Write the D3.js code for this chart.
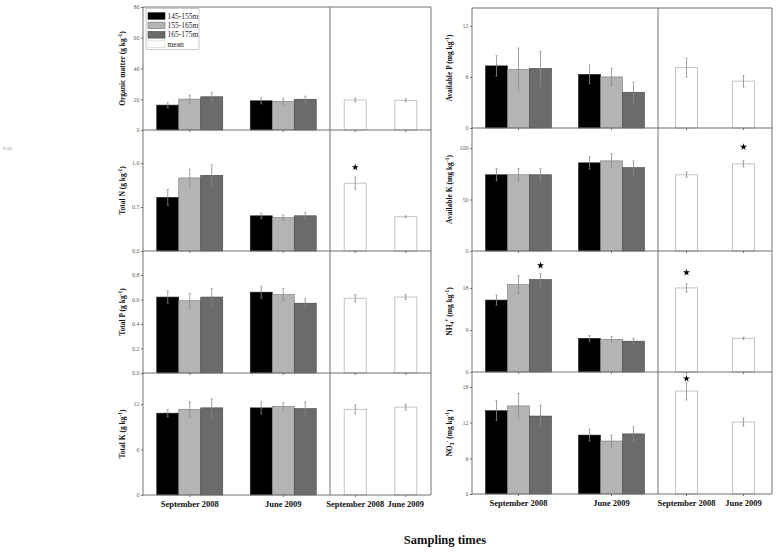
<!DOCTYPE html>
<html><head><meta charset="utf-8">
<script src="https://cdn.jsdelivr.net/npm/d3@7"></script>
<style>body{margin:0;background:#fff}</style></head>
<body><svg id="c" width="777" height="553"></svg>
<script>
// ---------- DATA ----------
const times = ["September 2008", "June 2009"];
const elevations = ["145-155m", "155-165m", "165-175m"];
const legendLabels = ["145-155m", "155-165m", "165-175m", "mean"];

// values [time][elevation]
const organicMatter = [[16.2, 20.1, 21.6], [19.0, 18.7, 20.0]];
const organicMatterErr = [[1.8, 2.6, 2.9], [2.0, 2.0, 2.0]];
const organicMatterMean = [19.5, 19.3];
const organicMatterMeanErr = [1.3, 1.0];

const totalN = [[0.61, 0.83, 0.86], [0.40, 0.38, 0.40]];
const totalNErr = [[0.09, 0.10, 0.12], [0.03, 0.03, 0.04]];
const totalNMean = [0.77, 0.39];
const totalNMeanErr = [0.07, 0.01];

const totalP = [[0.62, 0.59, 0.62], [0.66, 0.64, 0.57]];
const totalPErr = [[0.05, 0.06, 0.07], [0.05, 0.05, 0.04]];
const totalPMean = [0.61, 0.62];
const totalPMeanErr = [0.03, 0.02];

const totalK = [[10.8, 11.3, 11.5], [11.5, 11.7, 11.4]];
const totalKErr = [[0.5, 1.0, 1.2], [0.8, 0.5, 0.9]];
const totalKMean = [11.3, 11.6];
const totalKMeanErr = [0.6, 0.4];

const availableP = [[7.3, 6.9, 7.0], [6.3, 6.0, 4.2]];
const availablePErr = [[1.2, 2.5, 2.0], [1.1, 1.0, 1.2]];
const availablePMean = [7.1, 5.5];
const availablePMeanErr = [1.1, 0.7];

const availableK = [[74, 74, 74], [85.6, 87.5, 81]];
const availableKErr = [[6, 6, 6], [6, 7, 6.5]];
const availableKMean = [74, 84.6];
const availableKMeanErr = [2.5, 3];

const nh4 = [[15.4, 18.7, 19.8], [7.2, 7.0, 6.6]];
const nh4Err = [[1.1, 1.9, 1.3], [0.6, 0.6, 0.6]];
const nh4Mean = [18.0, 7.2];
const nh4MeanErr = [0.9, 0.25];

const no3 = [[14.0, 14.8, 13.1], [9.9, 8.9, 10.1]];
const no3Err = [[1.7, 2.1, 1.8], [1.0, 1.0, 1.2]];
const no3Mean = [17.3, 12.1];
const no3MeanErr = [1.5, 0.7];

// axis domains and tick values
const yMaxes = { om: 80, tn: 1.375, tp: 0.996, tk: 16.1, ap: 14.1, ak: 119.4, nh4: 25.9, no3: 20.5 };
const omTicks = [0, 20, 40, 60, 80];
const tnTicks = [0, 0.5, 1.0];
const tpTicks = [0, 0.2, 0.4, 0.6, 0.8];
const tkTicks = [0, 6, 12];
const apTicks = [0, 6, 12];
const akTicks = [0, 50, 100];
const nh4Ticks = [0, 9, 18];
const no3Ticks = [0, 6, 12, 18];

// significance stars: panel, kind ("mean" or elevation index), time index, value
const starPanels = ["tn", "ak", "nh4", "nh4", "no3"];
const starKinds = ["mean", "mean", 2, "mean", "mean"];
const starTimes = [0, 1, 0, 0, 0];
const starValues = [0.95, 101, 22.8, 21.3, 19.4];

// ---------- STYLE / LAYOUT ----------
const seriesColors = ["#000000", "#b4b4b4", "#6b6b6b"];
const seriesStroke = ["#222", "#777", "#444"];
const frameColor = "#707070";
const serif = "'Liberation Serif','Times New Roman',serif";

const cols = [
  { wide: [143, 330], mean: [330, 431], labelX: 125, rows: [[7, 130], [130, 251], [251, 373], [373, 495]] },
  { wide: [472, 658], mean: [658, 772], labelX: 452, rows: [[8, 128], [128, 251], [251, 372], [372, 494]] }
];

const sup = (t) => ({ t, s: "sup" }), sub = (t) => ({ t, s: "sub" }), n = (t) => ({ t, s: null });
const panels = [
  { key: "om", col: 0, row: 0, v: organicMatter, e: organicMatterErr, m: organicMatterMean, me: organicMatterMeanErr, ticks: omTicks, fmt: d3.format("d"),
    label: [n("Organic matter (g kg"), sup("-1"), n(")")] },
  { key: "tn", col: 0, row: 1, v: totalN, e: totalNErr, m: totalNMean, me: totalNMeanErr, ticks: tnTicks, fmt: d3.format(".1f"),
    label: [n("Total N (g kg"), sup("-1"), n(")")] },
  { key: "tp", col: 0, row: 2, v: totalP, e: totalPErr, m: totalPMean, me: totalPMeanErr, ticks: tpTicks, fmt: d3.format(".1f"),
    label: [n("Total P (g kg"), sup("-1"), n(")")] },
  { key: "tk", col: 0, row: 3, v: totalK, e: totalKErr, m: totalKMean, me: totalKMeanErr, ticks: tkTicks, fmt: d3.format("d"),
    label: [n("Total K (g kg"), sup("-1"), n(")")] },
  { key: "ap", col: 1, row: 0, v: availableP, e: availablePErr, m: availablePMean, me: availablePMeanErr, ticks: apTicks, fmt: d3.format("d"),
    label: [n("Available P (mg kg"), sup("-1"), n(")")] },
  { key: "ak", col: 1, row: 1, v: availableK, e: availableKErr, m: availableKMean, me: availableKMeanErr, ticks: akTicks, fmt: d3.format("d"),
    label: [n("Available K (mg kg"), sup("-1"), n(")")] },
  { key: "nh4", col: 1, row: 2, v: nh4, e: nh4Err, m: nh4Mean, me: nh4MeanErr, ticks: nh4Ticks, fmt: d3.format("d"),
    label: [n("NH"), sub("4"), sup("+"), n(" (mg kg"), sup("-1"), n(")")] },
  { key: "no3", col: 1, row: 3, v: no3, e: no3Err, m: no3Mean, me: no3MeanErr, ticks: no3Ticks, fmt: d3.format("d"),
    label: [n("NO"), sub("3"), sup("-"), n(" (mg kg"), sup("-1"), n(")")] }
];

const svg = d3.select("#c");
svg.append("rect").attr("width", 777).attr("height", 553).attr("fill", "#fff");

// stray tiny text at left
svg.append("text").attr("x", 3).attr("y", 150).attr("font-size", 4).attr("fill", "#888")
  .attr("font-family", serif).text("N (0)");

const BW = 22;
function groupScale(range, bw) {
  const step = (range[1] - range[0]) / 2;
  const pi = 1 - bw / step;
  return d3.scaleBand().domain(times).range(range).paddingInner(pi).paddingOuter(pi / 2);
}

function drawErr(g, cx, yTop, yBot) {
  g.append("line").attr("x1", cx).attr("x2", cx).attr("y1", yTop).attr("y2", yBot)
    .attr("stroke", "#8a8a8a").attr("stroke-width", 0.8);
  [yTop, yBot].forEach(yy => g.append("line").attr("x1", cx - 1.2).attr("x2", cx + 1.2)
    .attr("y1", yy).attr("y2", yy).attr("stroke", "#8a8a8a").attr("stroke-width", 0.6));
}

const yScales = {};
const meanScales = {};
panels.forEach(p => {
  const c = cols[p.col];
  const [top, bottom] = c.rows[p.row];
  const y = d3.scaleLinear().domain([0, yMaxes[p.key]]).range([bottom, top]);
  yScales[p.key] = y;
  const x0 = groupScale(c.wide, BW * 3);
  const x1 = d3.scaleBand().domain(elevations).range([0, x0.bandwidth()]);
  const xm = groupScale(c.mean, BW);
  meanScales[p.key] = { x0, x1, xm };
  const g = svg.append("g");

  times.forEach((t, ti) => {
    elevations.forEach((el, ei) => {
      const val = p.v[ti][ei], er = p.e[ti][ei];
      const cx = x0(t) + x1(el) + x1.bandwidth() / 2;
      g.append("rect").attr("x", x0(t) + x1(el)).attr("width", x1.bandwidth())
        .attr("y", y(val)).attr("height", y(0) - y(val))
        .attr("fill", seriesColors[ei]).attr("stroke", seriesStroke[ei]).attr("stroke-width", 0.6);
      drawErr(g, cx, y(val + er), y(val - er));
    });
    const mv = p.m[ti], me = p.me[ti];
    g.append("rect").attr("x", xm(t)).attr("width", xm.bandwidth())
      .attr("y", y(mv)).attr("height", y(0) - y(mv))
      .attr("fill", "#fff").attr("stroke", "#c4c4c4").attr("stroke-width", 1);
    drawErr(g, xm(t) + xm.bandwidth() / 2, y(mv + me), y(mv - me));
  });

  const ay = g.append("g").attr("transform", `translate(${c.wide[0]},0)`)
    .call(d3.axisLeft(y).tickValues(p.ticks).tickFormat(p.fmt).tickSize(2).tickSizeOuter(0).tickPadding(1.5));
  ay.select(".domain").remove();
  ay.selectAll("line").attr("stroke", frameColor);
  ay.selectAll("text").attr("font-size", 6).attr("fill", "#666").attr("font-family", serif);

  const isBottom = p.row === 3;
  [x0, xm].forEach(sc => {
    const ax = g.append("g").attr("transform", `translate(0,${bottom})`)
      .call(d3.axisBottom(sc).tickSize(2).tickPadding(4).tickFormat(isBottom ? (d => d) : () => ""));
    ax.select(".domain").remove();
    ax.selectAll("line").attr("stroke", frameColor);
    ax.selectAll("text").attr("font-size", 8.5).attr("font-weight", "bold")
      .attr("font-family", serif).attr("fill", "#111");
  });

  const lbl = g.append("text").attr("transform", `translate(${c.labelX},${(top + bottom) / 2}) rotate(-90)`)
    .attr("text-anchor", "middle").attr("font-family", serif).attr("font-weight", "bold")
    .attr("font-size", 7.5).attr("fill", "#111");
  let shift = 0;
  p.label.forEach(part => {
    const target = part.s === "sup" ? -3 : part.s === "sub" ? 2 : 0;
    const ts = lbl.append("tspan").attr("dy", target - shift).text(part.t);
    if (part.s) ts.attr("font-size", 5.5);
    shift = target;
  });
});

// frames
cols.forEach(c => {
  const top = c.rows[0][0], bot = c.rows[3][1];
  const fl = (x1, y1, x2, y2) => svg.append("line").attr("x1", x1).attr("y1", y1).attr("x2", x2).attr("y2", y2)
    .attr("stroke", frameColor).attr("stroke-width", 1);
  fl(c.wide[0], top, c.wide[0], bot);
  fl(c.wide[1], top, c.wide[1], bot);
  fl(c.mean[1], top, c.mean[1], bot);
  fl(c.wide[0], top, c.mean[1], top);
  c.rows.forEach(r => fl(c.wide[0], r[1], c.mean[1], r[1]));
});

// stars
const starSym = d3.symbol().type(d3.symbolStar).size(15);
starPanels.forEach((pk, i) => {
  const { x0, x1, xm } = meanScales[pk];
  const t = times[starTimes[i]];
  const kind = starKinds[i];
  const cx = kind === "mean" ? xm(t) + xm.bandwidth() / 2 : x0(t) + x1(elevations[kind]) + x1.bandwidth() / 2;
  svg.append("path").attr("d", starSym).attr("fill", "#000")
    .attr("transform", `translate(${cx},${yScales[pk](starValues[i])})`);
});

// legend
const lg = svg.append("g");
lg.append("rect").attr("x", 146).attr("y", 8.5).attr("width", 53).attr("height", 41)
  .attr("fill", "#fff").attr("stroke", "#aaa").attr("stroke-width", 0.6);
legendLabels.forEach((l, i) => {
  const yy = 16 + i * 9.4;
  lg.append("rect").attr("x", 148).attr("y", yy - 3.3).attr("width", 17).attr("height", 6.6)
    .attr("fill", i < 3 ? seriesColors[i] : "#fff")
    .attr("stroke", i < 3 ? seriesStroke[i] : "#ccc").attr("stroke-width", 0.6);
  lg.append("text").attr("x", 167.5).attr("y", yy + 2.5).attr("font-size", 7.5)
    .attr("font-family", serif).attr("fill", "#222").text(l);
});

// x title
svg.append("text").attr("x", 445).attr("y", 544).attr("text-anchor", "middle")
  .attr("font-family", serif).attr("font-weight", "bold").attr("font-size", 12.5)
  .attr("fill", "#111").text("Sampling times");
</script>
</body></html>
